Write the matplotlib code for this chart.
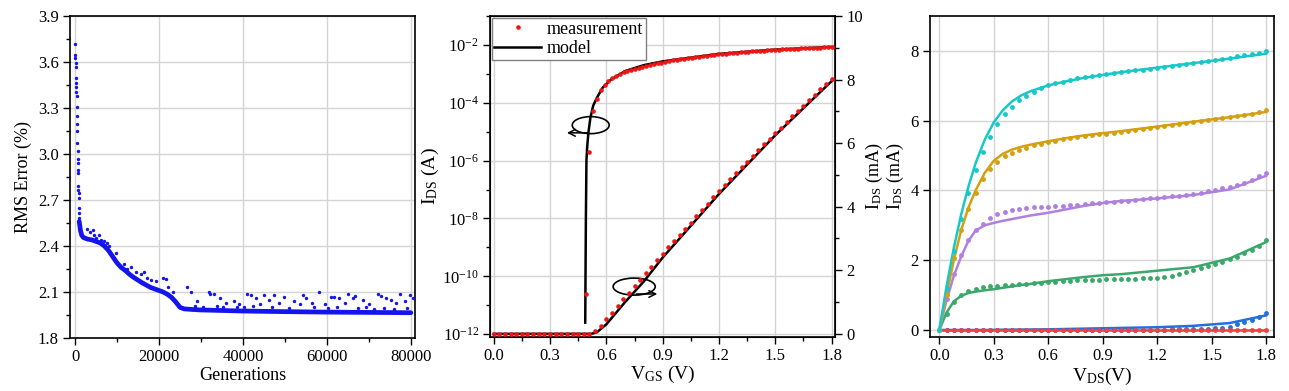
import numpy as np
import matplotlib.pyplot as plt
from matplotlib.patches import Ellipse
from matplotlib.ticker import MultipleLocator, FixedLocator

plt.rcParams['font.family'] = ['Liberation Serif', 'DejaVu Serif']
plt.rcParams['mathtext.fontset'] = 'custom'
plt.rcParams['mathtext.rm'] = 'Liberation Serif'
plt.rcParams['mathtext.it'] = 'Liberation Serif:italic'
plt.rcParams['font.size'] = 12

# ---- panel 1: RMS error vs generations
early_gen = [0, 60, 100, 140, 180, 220, 260, 300, 330, 360, 400, 440, 480, 520,
             560, 600, 640, 680, 710, 740, 780, 820, 860, 900, 950, 1000, 1050]
early_err = [3.715, 3.646, 3.624, 3.591, 3.569, 3.497, 3.461, 3.435, 3.406, 3.378,
             3.304, 3.25, 3.195, 3.15, 3.074, 3.022, 2.965, 2.939, 2.896, 2.874,
             2.793, 2.765, 2.744, 2.711, 2.646, 2.613, 2.58]

band_gen = [1000, 1300, 1600, 2000, 3000, 4000, 5000, 6000, 7000, 8000, 9000, 10000,
            11000, 12000, 13000, 14000, 16000, 18000, 20000, 21000, 22000, 23000,
            24000, 25000, 26000, 28000, 30000, 40000, 50000, 60000, 70000, 80000]
band_err = [2.56, 2.50, 2.47, 2.455, 2.445, 2.44, 2.43, 2.42, 2.40, 2.37, 2.33, 2.29,
            2.26, 2.24, 2.215, 2.195, 2.16, 2.13, 2.11, 2.10, 2.085, 2.065,
            2.035, 2.0, 1.99, 1.986, 1.983, 1.976, 1.972, 1.969, 1.967, 1.965]

out_gen = [2940, 3560, 4200, 4400, 5050, 5600, 6300, 7000, 7600, 8200, 9700, 11700,
           12400, 13400, 14600, 15800, 16400, 17200, 18200, 19400, 21000, 21700,
           22200, 23400, 26700, 27700, 29000, 31800, 32200, 33000, 34600, 36000,
           37800, 39000, 41000, 41800, 43000, 44000, 45000, 46200, 47400, 48500,
           49800, 52200, 53500, 54200, 55000, 56500, 58200, 59500, 61000, 61800,
           63000, 64200, 65100, 66200, 66700, 68500, 70000, 72100, 72900, 74100,
           75300, 76500, 77300, 78500, 79700, 80400,
           28500, 30500, 33800, 35200, 38500, 40200, 42500, 47000, 51000, 57000,
           60200, 62500, 67500, 69300, 71200, 73500, 76000, 79000]
out_err = [2.509, 2.494, 2.505, 2.47, 2.45, 2.47, 2.44, 2.43, 2.42, 2.40, 2.352, 2.28,
           2.25, 2.26, 2.23, 2.22, 2.23, 2.19, 2.18, 2.17, 2.19, 2.185,
           2.13, 2.10, 2.13, 2.10, 2.04, 2.10, 2.09, 2.09, 2.06, 2.03,
           2.04, 2.02, 2.09, 2.08, 2.06, 2.02, 2.08, 2.05, 2.08, 2.03,
           2.07, 2.04, 2.02, 2.08, 2.06, 2.03, 2.10, 2.02, 2.07, 2.065,
           2.06, 2.03, 2.085, 2.06, 2.075, 2.05, 2.02, 2.09, 2.075, 2.06,
           2.05, 2.03, 2.085, 2.04, 2.08, 2.06,
           2.01, 2.005, 2.01, 2.0, 2.005, 2.0, 2.01, 2.0, 1.995, 2.0,
           1.995, 2.0, 1.995, 2.0, 1.99, 1.995, 1.99, 1.995]

# ---- panel 2: transfer curve
vgs_lin = np.round(np.arange(0, 1.801, 0.03), 2)
ids_lin_meas = [0] * 18 + [0.08, 0.25, 0.47, 0.66, 0.88, 1.08, 1.29, 1.5, 1.7, 1.9,
                           2.1, 2.32, 2.52, 2.72, 2.92, 3.12, 3.3, 3.5, 3.7, 3.9,
                           4.1, 4.3, 4.48, 4.67, 4.86, 5.05, 5.24, 5.42, 5.6, 5.78,
                           5.96, 6.14, 6.32, 6.49, 6.66, 6.84, 7.01, 7.18, 7.35, 7.52,
                           7.69, 7.86, 8.03]
vgs_lin_model = [0, 0.52, 0.55, 0.6, 0.65, 0.7, 0.8, 0.9, 1.2, 1.5, 1.8]
ids_lin_model = [0, 0, 0.05, 0.3, 0.65, 1.0, 1.65, 2.4, 4.4, 6.25, 7.95]

vgs_log = np.linspace(0.49, 1.8, 66)
ids_log_meas = [2.5e-11, 2.0e-6, 5.0e-5, 1.4e-4, 2.8e-4, 4.2e-4, 5.6e-4, 7.0e-4,
                8.4e-4, 9.8e-4, 1.12e-3, 1.25e-3, 1.38e-3, 1.5e-3, 1.63e-3, 1.76e-3,
                1.9e-3, 2.04e-3, 2.18e-3, 2.32e-3, 2.46e-3, 2.6e-3, 2.75e-3, 2.9e-3,
                3.05e-3, 3.2e-3, 3.35e-3, 3.5e-3, 3.65e-3, 3.8e-3, 3.95e-3, 4.1e-3,
                4.25e-3, 4.4e-3, 4.55e-3, 4.7e-3, 4.85e-3, 4.98e-3, 5.12e-3, 5.26e-3,
                5.4e-3, 5.54e-3, 5.68e-3, 5.82e-3, 5.96e-3, 6.1e-3, 6.24e-3, 6.38e-3,
                6.52e-3, 6.66e-3, 6.8e-3, 6.92e-3, 7.03e-3, 7.14e-3, 7.25e-3, 7.36e-3,
                7.47e-3, 7.58e-3, 7.69e-3, 7.8e-3, 7.91e-3, 8.02e-3, 8.13e-3, 8.24e-3,
                8.35e-3, 8.5e-3]
vgs_log_model = [0.4876, 0.489, 0.491, 0.494, 0.498, 0.505, 0.515, 0.53, 0.55, 0.58,
                 0.62, 0.7, 0.8, 0.9, 1.2, 1.5, 1.8]
ids_log_model = [2.5e-12, 1e-10, 1e-8, 1e-6, 3e-6, 1e-5, 3e-5, 8e-5, 1.5e-4, 3.3e-4,
                 6e-4, 1.25e-3, 2.0e-3, 2.7e-3, 4.9e-3, 6.9e-3, 8.5e-3]

# ---- panel 3: output curves
vds = np.round(np.arange(0, 1.801, 0.04), 2)
vds_model = [0, 0.04, 0.08, 0.12, 0.16, 0.2, 0.25, 0.3, 0.35, 0.4, 0.45, 0.5, 0.6,
             0.7, 0.8, 0.9, 1.0, 1.2, 1.4, 1.6, 1.8]
cyan_meas = [0, 1.2, 2.27, 3.17, 3.93, 4.58, 5.11, 5.54, 5.90, 6.19, 6.40, 6.58, 6.72,
             6.83, 6.93, 7.01, 7.07, 7.12, 7.17, 7.21, 7.25, 7.28, 7.31, 7.34, 7.37,
             7.40, 7.42, 7.44, 7.46, 7.48, 7.50, 7.53, 7.56, 7.59, 7.62, 7.65, 7.68,
             7.71, 7.74, 7.77, 7.80, 7.84, 7.87, 7.91, 7.95, 8.00]
cyan_model = [0, 1.25, 2.35, 3.3, 4.1, 4.78, 5.45, 5.95, 6.3, 6.55, 6.72, 6.84, 7.01,
              7.13, 7.23, 7.31, 7.39, 7.52, 7.65, 7.78, 7.92]
orange_meas = [0, 1.0, 2.05, 2.87, 3.46, 3.93, 4.32, 4.62, 4.82, 4.98, 5.08, 5.16, 5.23,
               5.29, 5.34, 5.39, 5.43, 5.47, 5.50, 5.53, 5.56, 5.59, 5.61, 5.63, 5.66,
               5.68, 5.70, 5.73, 5.76, 5.79, 5.82, 5.85, 5.88, 5.90, 5.93, 5.96, 5.99,
               6.01, 6.04, 6.07, 6.10, 6.13, 6.17, 6.20, 6.25, 6.30]
orange_model = [0, 1.0, 2.0, 2.85, 3.5, 4.0, 4.5, 4.85, 5.05, 5.17, 5.25, 5.31, 5.41,
                5.5, 5.58, 5.64, 5.7, 5.83, 5.97, 6.1, 6.25]
purple_meas = [0, 0.9, 1.6, 2.16, 2.58, 2.87, 3.05, 3.22, 3.32, 3.39, 3.44, 3.47, 3.50,
               3.52, 3.53, 3.54, 3.55, 3.56, 3.57, 3.59, 3.61, 3.63, 3.65, 3.67, 3.68,
               3.70, 3.71, 3.73, 3.75, 3.77, 3.79, 3.81, 3.83, 3.85, 3.88, 3.91, 3.94,
               3.98, 4.02, 4.06, 4.10, 4.15, 4.22, 4.30, 4.40, 4.50]
purple_model = [0, 0.85, 1.55, 2.1, 2.55, 2.85, 3.0, 3.07, 3.13, 3.18, 3.23, 3.28, 3.36,
                3.46, 3.56, 3.64, 3.7, 3.77, 3.87, 4.03, 4.42]
green_meas = [0, 0.46, 0.8, 1.0, 1.12, 1.18, 1.22, 1.25, 1.27, 1.29, 1.30, 1.31, 1.32,
              1.34, 1.36, 1.38, 1.39, 1.40, 1.41, 1.42, 1.43, 1.44, 1.44, 1.45, 1.45,
              1.46, 1.46, 1.47, 1.48, 1.49, 1.50, 1.53, 1.56, 1.60, 1.65, 1.71, 1.78,
              1.84, 1.90, 1.96, 2.03, 2.10, 2.20, 2.30, 2.42, 2.58]
green_model = [0, 0.5, 0.82, 0.98, 1.06, 1.1, 1.14, 1.17, 1.21, 1.25, 1.29, 1.32, 1.40,
               1.46, 1.52, 1.57, 1.6, 1.7, 1.8, 2.05, 2.52]
blue_meas = [0] * 30 + [0.01, 0.01, 0.02, 0.02, 0.02, 0.03, 0.03, 0.04, 0.05, 0.07,
                        0.10, 0.16, 0.22, 0.28, 0.36, 0.50]
blue_model = [0, 0, 0, 0, 0, 0, 0, 0.005, 0.008, 0.01, 0.013, 0.015, 0.02, 0.03, 0.04,
              0.05, 0.06, 0.08, 0.12, 0.2, 0.42]
red_meas = [0] * 46
red_model = [0] * 21

fig = plt.figure(figsize=(12.89, 3.91), dpi=100)
ax1 = fig.add_axes([0.0543, 0.1355, 0.2677, 0.8235])
ax2 = fig.add_axes([0.3801, 0.1381, 0.2677, 0.821])
ax3 = fig.add_axes([0.7215, 0.1381, 0.2669, 0.821])

grid_kw = dict(color='#d4d4d4', lw=1.0)
LAB = 13


def style(ax):
    for s in ax.spines.values():
        s.set_linewidth(1.2)
    ax.tick_params(direction='out', length=5, width=1, labelsize=12, pad=3)
    ax.tick_params(which='minor', direction='out', length=3, width=1)
    ax.set_axisbelow(True)
    ax.grid(True, **grid_kw)


# panel 1
blue = '#1414f0'
ax1.plot(band_gen, band_err, color=blue, lw=3.4, solid_capstyle='round', zorder=3)
ax1.scatter(early_gen, early_err, s=6, color=blue, lw=0, zorder=4)
ax1.scatter(out_gen, out_err, s=6, color=blue, lw=0, zorder=4)
ax1.set_xlim(-1200, 81000)
ax1.set_ylim(1.8, 3.9)
ax1.xaxis.set_major_locator(MultipleLocator(20000))
ax1.xaxis.set_minor_locator(MultipleLocator(10000))
ax1.yaxis.set_major_locator(MultipleLocator(0.3))
ax1.yaxis.set_minor_locator(MultipleLocator(0.15))
ax1.yaxis.set_major_formatter(plt.FormatStrFormatter('%.1f'))
style(ax1)
ax1.set_xlabel('Generations', fontsize=LAB, labelpad=1)
ax1.set_ylabel('RMS Error (%)', fontsize=LAB, labelpad=4)

# panel 2
ax2.plot(vgs_log_model, ids_log_model, color='black', lw=1.8, zorder=3, label='model')
ax2.plot(vgs_log, ids_log_meas, 'o', color='#f01414', ms=3.3, mew=0, zorder=4,
         label='measurement')
ax2.set_yscale('log')
ax2.set_ylim(10 ** -12.1, 1e-1)
ax2.set_xlim(-0.02, 1.818)
ax2.yaxis.set_major_locator(FixedLocator([10.0 ** k for k in range(-12, -1, 2)]))
ax2.yaxis.set_minor_locator(FixedLocator([10.0 ** k for k in range(-11, 0, 2)]))
ax2.yaxis.set_minor_formatter(plt.NullFormatter())
ax2.xaxis.set_major_locator(MultipleLocator(0.3))
ax2.xaxis.set_minor_locator(MultipleLocator(0.15))
ax2.xaxis.set_major_formatter(plt.FormatStrFormatter('%.1f'))
style(ax2)
ax2.set_xlabel(r'V$_{\rm GS}$ (V)', fontsize=LAB + 1, labelpad=0)
ax2.set_ylabel(r'I$_{\rm DS}$ (A)', fontsize=LAB + 1, labelpad=1)

ax2r = ax2.twinx()
ax2r.plot(vgs_lin_model, ids_lin_model, color='black', lw=1.8, zorder=3)
ax2r.plot(vgs_lin, ids_lin_meas, 'o', color='#f01414', ms=3.3, mew=0, zorder=4)
ax2r.set_ylim(-0.1, 10)
ax2r.yaxis.set_major_locator(MultipleLocator(2))
ax2r.yaxis.set_minor_locator(MultipleLocator(1))
ax2r.tick_params(direction='out', length=5, width=1, labelsize=12, pad=3)
ax2r.tick_params(which='minor', direction='out', length=3, width=1)
ax2r.set_ylabel(r'I$_{\rm DS}$ (mA)', fontsize=LAB, labelpad=1)

h, l = ax2.get_legend_handles_labels()
leg = ax2.legend(h[::-1], l[::-1], loc='upper left', borderaxespad=0.1, fancybox=False,
                 edgecolor='#808080', framealpha=1, fontsize=13, handlelength=2.6,
                 borderpad=0.15, labelspacing=0.15, handletextpad=0.3)
leg.get_frame().set_linewidth(1.0)
leg.set_zorder(10)

for c, w in [((0.292, 0.660), 0.107), ((0.418, 0.157), 0.122)]:
    ax2.add_patch(Ellipse(c, w, 0.053, transform=ax2.transAxes, fill=False,
                          ec='black', lw=1.2, zorder=6))
ax2.annotate('', xy=(0.215, 0.636), xytext=(0.29, 0.636), xycoords='axes fraction',
             arrowprops=dict(arrowstyle='->', lw=1.1, color='black'), zorder=6)
ax2.annotate('', xy=(0.493, 0.134), xytext=(0.416, 0.134), xycoords='axes fraction',
             arrowprops=dict(arrowstyle='->', lw=1.1, color='black'), zorder=6)

# panel 3
series = [
    (red_meas, red_model, '#f04040'),
    (blue_meas, blue_model, '#2070e0'),
    (green_meas, green_model, '#3aa86a'),
    (purple_meas, purple_model, '#b080e0'),
    (orange_meas, orange_model, '#d4a010'),
    (cyan_meas, cyan_model, '#18c8c8'),
]
order = [1, 0, 2, 3, 4, 5]
for i in order:
    meas, model, col = series[i]
    ax3.plot(vds_model, model, color=col, lw=1.8, zorder=3)
    ax3.plot(vds, meas, 'o', color=col, ms=3.5, mew=0, zorder=4)
ax3.set_xlim(-0.051, 1.844)
ax3.set_ylim(-0.2, 9)
ax3.xaxis.set_major_locator(MultipleLocator(0.3))
ax3.yaxis.set_major_locator(MultipleLocator(2))
ax3.xaxis.set_major_formatter(plt.FormatStrFormatter('%.1f'))
style(ax3)
ax3.set_xlabel(r'V$_{\rm DS}$(V)', fontsize=LAB + 1, labelpad=1)
ax3.set_ylabel(r'I$_{\rm DS}$ (mA)', fontsize=LAB, labelpad=3)

fig.savefig('out.png', dpi=100)
